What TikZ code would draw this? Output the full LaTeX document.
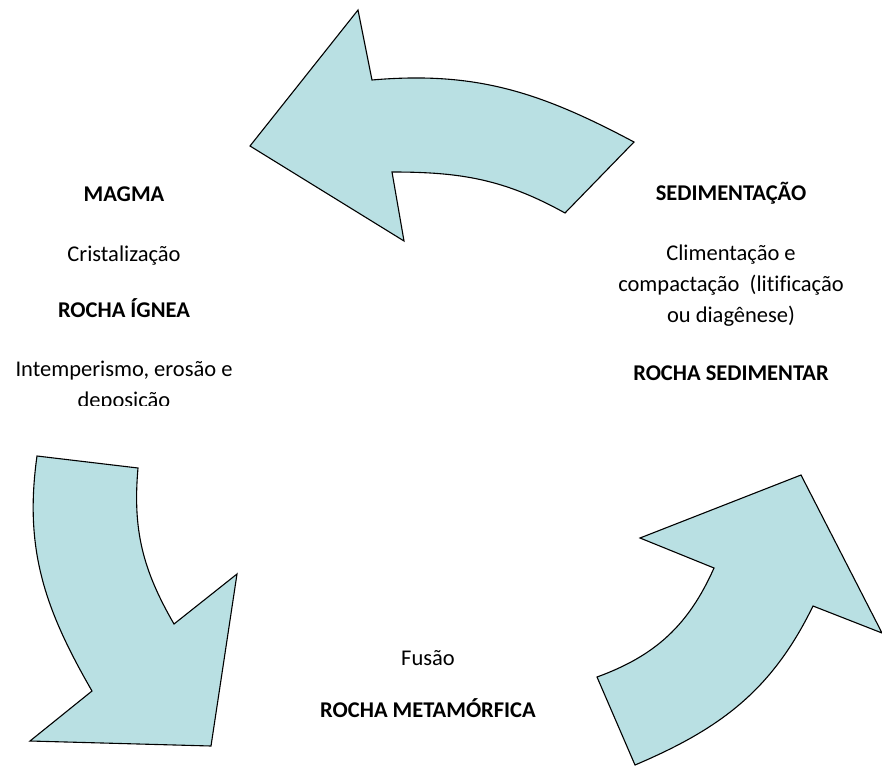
\documentclass[tikz,border=0pt]{standalone}
\usepackage{fontspec}
\setmainfont[Ligatures=NoCommon]{Carlito}
\usepackage{xcolor}
\usepackage{tikz}
\usetikzlibrary{positioning}

\definecolor{cyclefill}{RGB}{185,224,227}

\begin{document}
\begin{tikzpicture}[
    x=1pt, y=1pt,
    bigarrow/.style={fill=cyclefill, draw=black, line width=1.1pt, line join=miter},
    stage/.style={font=\fontsize{22.5}{31}\selectfont\bfseries, anchor=base, inner sep=0pt},
    process/.style={font=\fontsize{22.5}{31}\selectfont, anchor=base, inner sep=0pt}
]
\useasboundingbox (0,0) rectangle (882,-765);

% Curved arrows of the cycle
\draw[bigarrow] (250,-146) -- (358,-10) -- (372,-80)
    to[out=5, in=152] (634,-142) -- (565,-213)
    to[out=151, in=0] (392,-172) -- (404,-241) -- cycle;
\draw[bigarrow] (37,-456) -- (138,-468)
    to[out=-95, in=120] (174,-624) -- (237,-574) -- (211,-746)
    -- (30,-741) -- (92,-691) to[out=120, in=-98] (37,-456) -- cycle;
\draw[bigarrow] (597,-677) -- (635,-765)
    to[out=23, in=-116] (813,-606) -- (882,-633) -- (801,-475)
    -- (640,-538) -- (714,-568) to[out=-114, in=20] (597,-677) -- cycle;

% Left column
\node[stage] (magma) at (124,-201) {MAGMA};
\node[process] (cristal) at (124,-261) {Cristalização};
\node[stage] (ignea) at (124,-317) {ROCHA ÍGNEA};
\node[process] (intemp) at (124,-376) {Intemperismo, erosão e};
\begin{scope}
    \clip (0,-385) rectangle (280,-405);
    \node[process] (deposicao) at (124,-407) {deposição};
\end{scope}

% Right column
\node[stage] (sedim) at (731,-200) {SEDIMENTAÇÃO};
\node[process] (cimen) at (731,-260) {Climentação e};
\node[process] (compac) at (731,-291) {compactação\ \ (litificação};
\node[process] (diagen) at (731,-322) {ou diagênese)};
\node[stage] (sedimentar) at (731,-380) {ROCHA SEDIMENTAR};

% Bottom
\node[process] (fusao) at (428,-665) {Fusão};
\node[stage] (metam) at (428,-717) {ROCHA METAMÓRFICA};

\end{tikzpicture}
\end{document}
